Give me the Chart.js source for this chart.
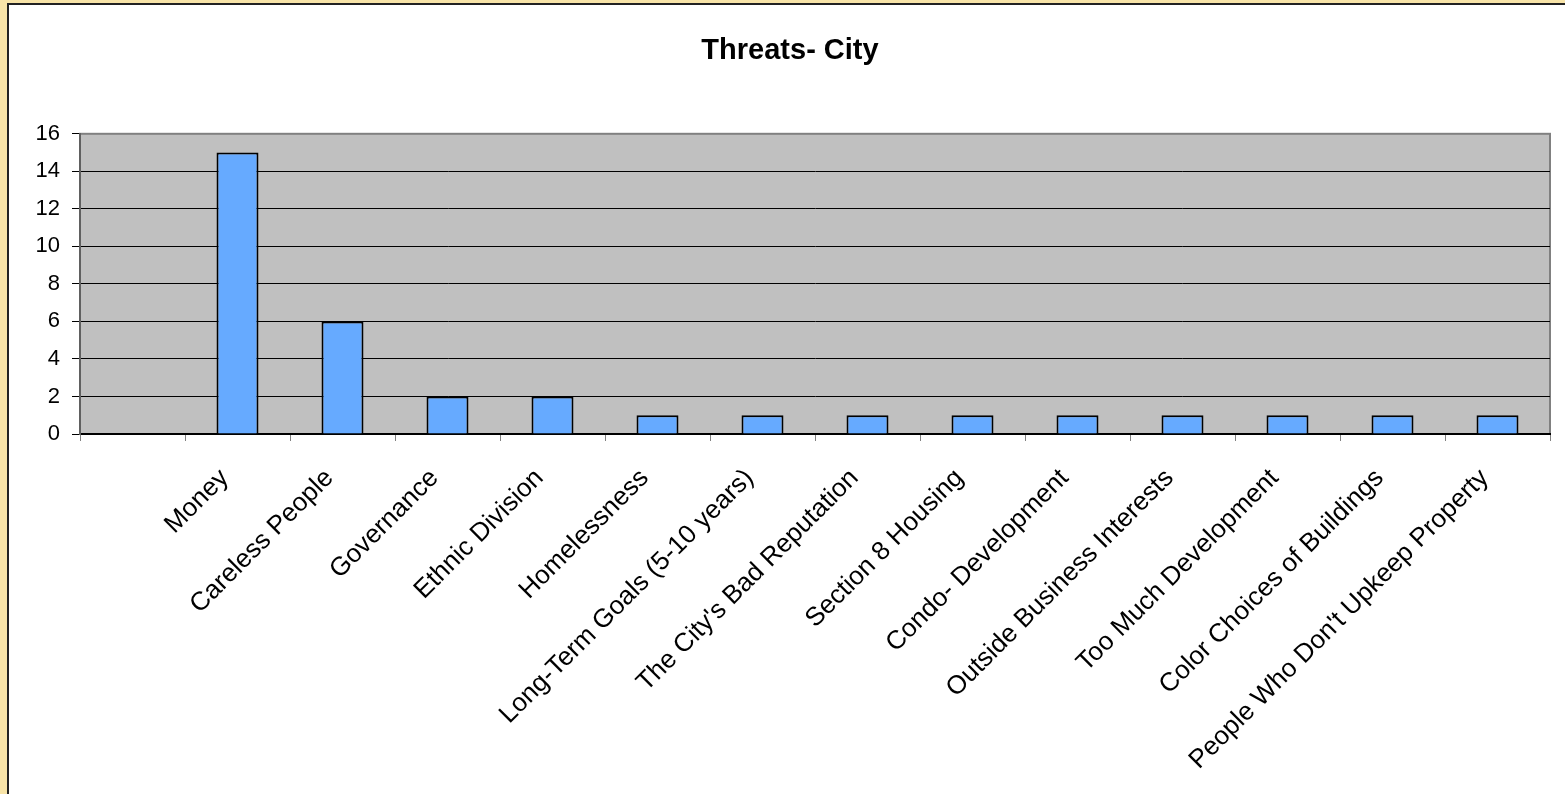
<!DOCTYPE html>
<html>
<head>
<meta charset="utf-8">
<script src="https://cdn.jsdelivr.net/npm/chart.js@4/dist/chart.umd.min.js"></script>
<style>
  html, body { margin: 0; padding: 0; width: 1565px; height: 794px; overflow: hidden; background: #f8e4a8; }
  #frame { position: absolute; left: 7px; top: 3px; width: 1600px; height: 820px; background: #fff;
           border-left: 2px solid #222; border-top: 2px solid #222; }
  #chart { position: absolute; left: 0; top: 0; }
</style>
</head>
<body>
<div id="frame"></div>
<canvas id="chart" width="1565" height="794"></canvas>
<script>
  /* Excel-style column chart: grey plot area, black gridlines, rotated category labels. */
  'use strict';

  const TITLE = 'Threats- City';
  const CATEGORIES = ['', 'Money', 'Careless People', 'Governance', 'Ethnic Division', 'Homelessness',
    'Long-Term Goals (5-10 years)', "The City's Bad Reputation", 'Section 8 Housing', 'Condo- Development',
    'Outside Business Interests', 'Too Much Development', 'Color Choices of Buildings', "People Who Don't Upkeep Property"];
  const COUNTS = [null, 15, 6, 2, 2, 1, 1, 1, 1, 1, 1, 1, 1, 1];
  const Y_MIN = 0, Y_MAX = 16, Y_STEP = 2;

  const FONT = "Arial, 'Liberation Sans', sans-serif";

  /** Grey plot background with a grey frame, drawn under the datasets. */
  const plotBg = {
    id: 'plotBg',
    beforeDraw(chart) {
      const { ctx, chartArea: a } = chart;
      ctx.save();
      ctx.fillStyle = '#c0c0c0';
      ctx.fillRect(a.left, a.top, a.right - a.left, a.bottom - a.top);
      ctx.strokeStyle = '#808080';
      ctx.lineWidth = 2;
      ctx.strokeRect(a.left, a.top, a.right - a.left, a.bottom - a.top);
      ctx.restore();
    }
  };

  new Chart(document.getElementById('chart'), {
    type: 'bar',
    data: {
      labels: CATEGORIES,
      datasets: [{ data: COUNTS, backgroundColor: '#66aaff', borderColor: '#000', borderWidth: 2,
        categoryPercentage: 1, barPercentage: 0.4 }]
    },
    options: {
      responsive: false, animation: false, maintainAspectRatio: false,
      layout: { padding: { left: 30, right: 15, top: 4, bottom: 0 } },
      plugins: {
        legend: { display: false }, tooltip: { enabled: false },
        title: { display: true, text: TITLE, color: '#000', font: { family: FONT, size: 29, weight: 'bold' },
          padding: { top: 30, bottom: 65 } }
      },
      scales: {
        x: {
          grid: { drawOnChartArea: false, drawTicks: true, tickLength: 7, color: '#808080', offset: true },
          border: { color: '#000', width: 2 },
          ticks: { color: '#000', font: { family: FONT, size: 26 }, minRotation: 45, maxRotation: 45,
            autoSkip: false, padding: 22, labelOffset: -13 },
          afterFit: (s) => { s.height = 360; }
        },
        y: {
          min: Y_MIN, max: Y_MAX,
          grid: { color: (c) => c.tick && c.tick.value === Y_MAX ? '#808080' : '#000', tickColor: '#000',
            tickLength: 8, lineWidth: 1 },
          border: { color: '#606060', width: 2 },
          ticks: { stepSize: Y_STEP, color: '#000', font: { family: FONT, size: 22 }, padding: 12 },
          afterFit: (s) => { s.width = 50; }
        }
      }
    },
    plugins: [plotBg]
  });
</script>
</body>
</html>
